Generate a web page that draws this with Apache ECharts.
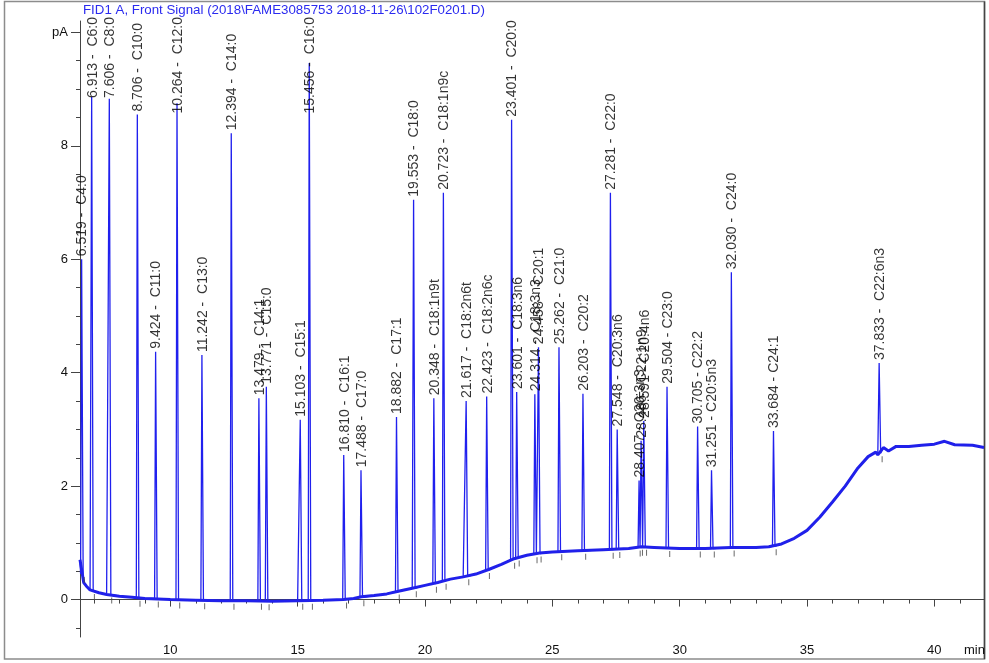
<!DOCTYPE html>
<html>
<head>
<meta charset="utf-8">
<script src="https://cdn.jsdelivr.net/npm/echarts@6/dist/echarts.min.js"></script>
<style>
  html, body { margin: 0; padding: 0; background: #fff; }
  #chart { width: 989px; height: 663px; }
</style>
</head>
<body>
<div id="chart"></div>
<script>
// peak table (retention time in min, apex in pA, baseline under the peak)
const peakTimes = [6.519, 6.913, 7.606, 8.706, 9.424, 10.264, 11.242, 12.394, 13.479, 13.771,
    15.103, 15.456, 16.810, 17.488, 18.882, 19.553, 20.348, 20.723, 21.617, 22.423,
    23.401, 23.601, 24.314, 24.458, 25.262, 26.203, 27.281, 27.548, 28.407, 28.486,
    28.591, 29.504, 30.705, 31.251, 32.030, 33.684, 37.833];
const peakNames = ['C4:0', 'C6:0', 'C8:0', 'C10:0', 'C11:0', 'C12:0', 'C13:0', 'C14:0', 'C14:1', 'C15:0',
    'C15:1', 'C16:0', 'C16:1', 'C17:0', 'C17:1', 'C18:0', 'C18:1n9t', 'C18:1n9c', 'C18:2n6t', 'C18:2n6c',
    'C20:0', 'C18:3n6', 'C18:3n3', 'C20:1', 'C21:0', 'C20:2', 'C22:0', 'C20:3n6', 'C20:3n3', 'C22:1n9',
    'C20:4n6', 'C23:0', 'C22:2', 'C20:5n3', 'C24:0', 'C24:1', 'C22:6n3'];
const peakHeights = [6.0, 8.86, 8.83, 8.55, 4.37, 8.75, 4.31, 8.22, 3.55, 3.75,
    3.17, 9.46, 2.55, 2.28, 3.22, 7.05, 3.55, 7.17, 3.5, 3.58,
    8.46, 3.66, 3.62, 4.45, 4.45, 3.63, 7.17, 3.0, 2.1, 2.8,
    3.15, 3.75, 3.05, 2.28, 5.77, 2.97, 4.17];
const peakBases = [0.45, 0.15, 0.09, 0.03, 0.02, 0.0, -0.01, -0.02, -0.02, -0.03,
    -0.02, -0.02, 0.0, 0.04, 0.14, 0.2, 0.28, 0.33, 0.41, 0.52,
    0.7, 0.74, 0.8, 0.81, 0.85, 0.86, 0.88, 0.89, 0.92, 0.93,
    0.93, 0.91, 0.9, 0.9, 0.92, 0.94, 2.58];
// integration end markers (min)
const markerTimes = [6.62, 7.02, 7.70, 8.81, 9.53, 10.37, 11.35, 12.50, 13.58, 13.88,
    15.20, 15.58, 16.92, 17.60, 18.99, 19.66, 20.45, 20.83, 21.72, 22.53,
    23.52, 23.70, 24.40, 24.56, 25.37, 26.31, 27.39, 27.65, 28.45, 28.54,
    28.70, 29.61, 30.81, 31.36, 32.14, 33.79, 37.95];
// labels with the narrow separator
const shortSep = ['28.407', '28.486', '28.591', '29.504', '30.705', '31.251', '33.684'];

// baseline of the trace
const baseTimes = [6.455, 6.6, 6.7, 6.85, 7.2, 7.5, 8.0, 8.5, 9.0, 10.0, 11.0, 12.0, 13.0, 14.0, 15.0, 16.0,
    16.8, 17.2, 17.5, 18.0, 18.5, 19.0, 19.5, 20.0, 20.5, 21.0, 21.5, 22.0, 22.5, 23.0, 23.5,
    24.0, 24.5, 25.0, 26.0, 27.0, 28.0, 28.5, 29.0, 30.0, 31.0, 32.0, 33.0, 33.5, 34.0, 34.5,
    35.0, 35.5, 36.0, 36.5, 37.0, 37.4, 37.7, 37.78, 38.0, 38.2, 38.5, 39.0, 39.5, 40.0, 40.4,
    40.8, 41.5, 41.95];
const baseValues = [0.7, 0.3, 0.24, 0.17, 0.12, 0.09, 0.06, 0.04, 0.02, 0.0, -0.01, -0.02, -0.02, -0.03, -0.02, -0.01,
    0.0, 0.02, 0.05, 0.07, 0.1, 0.15, 0.2, 0.25, 0.3, 0.36, 0.4, 0.45, 0.53, 0.62, 0.72,
    0.78, 0.82, 0.84, 0.86, 0.88, 0.9, 0.93, 0.92, 0.9, 0.9, 0.92, 0.92, 0.93, 0.98, 1.08,
    1.22, 1.45, 1.72, 2.0, 2.32, 2.52, 2.6, 2.55, 2.68, 2.62, 2.7, 2.7, 2.72, 2.74, 2.79,
    2.73, 2.72, 2.68];

const xLabelValues = [10, 15, 20, 25, 30, 35, 40];
const xMinorValues = [7, 8, 9, 10, 11, 12, 13, 14, 15, 16, 17, 18, 19, 20, 21, 22, 23, 24, 25, 26,
    27, 28, 29, 30, 31, 32, 33, 34, 35, 36, 37, 38, 39, 40, 41];
const yLabelValues = [0, 2, 4, 6, 8, 10];
const yMinorValues = [-0.5, 0, 0.5, 1, 1.5, 2, 2.5, 3, 3.5, 4, 4.5, 5, 5.5, 6, 6.5, 7, 7.5, 8, 8.5, 9, 9.5, 10];

const X_MIN = 6.455, X_MAX = 41.95, Y_MIN = -0.66, Y_MAX = 10.2;
const LABEL_FONT = 14;
const peakHalfL = 0.04, peakHalfR = 0.06;

// build the trace: baseline points outside peaks + triangle per peak
const trace = [];
baseTimes.forEach((t, i) => {
    const inPeak = peakTimes.some(p => t > p - peakHalfL && t < p + peakHalfR);
    if (!inPeak) trace.push([t, baseValues[i]]);
});
peakTimes.forEach((t, i) => {
    trace.push([t - peakHalfL, peakBases[i]], [t, peakHeights[i]], [t + peakHalfR, peakBases[i]]);
});
trace.sort((a, b) => a[0] - b[0]);

const labelTexts = peakTimes.map((t, i) => {
    const ts = t.toFixed(3);
    return ts + (shortSep.includes(ts) ? ' - ' : ' -  ') + peakNames[i];
});

const chart = echarts.init(document.getElementById('chart'));

function buildOption(labelAnchors) {
    return {
        animation: false,
        grid: { left: 80, right: 5, top: 21, bottom: 26 },
        xAxis: [
            {
                type: 'value', min: X_MIN, max: X_MAX,
                axisLine: { lineStyle: { color: '#444', width: 1 } },
                axisTick: { customValues: xLabelValues, length: 7, lineStyle: { color: '#444' } },
                axisLabel: {
                    customValues: xLabelValues, margin: 7, color: '#111',
                    fontSize: 13, fontFamily: 'Liberation Sans, Arial'
                },
                splitLine: { show: false }
            },
            {
                type: 'value', min: X_MIN, max: X_MAX, position: 'bottom',
                axisLine: { show: false },
                axisTick: { customValues: xMinorValues, length: 4, lineStyle: { color: '#444' } },
                axisLabel: { show: false },
                splitLine: { show: false }
            }
        ],
        yAxis: [
            {
                type: 'value', min: Y_MIN, max: Y_MAX,
                axisLine: { show: true, lineStyle: { color: '#444', width: 1 } },
                axisTick: { show: true, customValues: yLabelValues, length: 9, lineStyle: { color: '#444' } },
                axisLabel: {
                    customValues: yLabelValues, margin: 12, color: '#111',
                    fontSize: 13, fontFamily: 'Liberation Sans, Arial',
                    formatter: v => (v === 10 ? 'pA' : String(v))
                },
                splitLine: { show: false }
            },
            {
                type: 'value', min: Y_MIN, max: Y_MAX, position: 'left',
                axisLine: { show: false },
                axisTick: { show: true, customValues: yMinorValues, length: 4, lineStyle: { color: '#444' } },
                axisLabel: { show: false },
                splitLine: { show: false }
            }
        ],
        graphic: [
            {
                type: 'rect', silent: true,
                shape: { x: 4.5, y: 1.5, width: 980, height: 657.5 },
                style: { fill: 'none', stroke: '#8c8c8c', lineWidth: 1.5 }
            },
            {
                type: 'line', silent: true,
                shape: { x1: 984.5, y1: 1.5, x2: 984.5, y2: 659 },
                style: { stroke: '#444', lineWidth: 1.5 }
            },
            {
                type: 'text', left: 83, top: 4,
                style: {
                    text: 'FID1 A, Front Signal (2018\\FAME3085753 2018-11-26\\102F0201.D)',
                    fill: '#2b2bf0', font: '13.3px "Liberation Sans", Arial'
                }
            },
            {
                type: 'text', left: 964, top: 644,
                style: { text: 'min', fill: '#111', font: '13px "Liberation Sans", Arial' }
            }
        ],
        series: [
            {
                name: 'baseline', type: 'line', xAxisIndex: 0, yAxisIndex: 0,
                data: baseTimes.map((t, i) => [t, baseValues[i]]),
                showSymbol: false, symbol: 'none',
                lineStyle: { color: '#2222e6', width: 3 },
                z: 2
            },
            {
                name: 'signal', type: 'line', xAxisIndex: 0, yAxisIndex: 0,
                data: trace,
                showSymbol: false, symbol: 'none',
                lineStyle: { color: '#2020ee', width: 1.3 },
                z: 3
            },
            {
                name: 'markers', type: 'scatter', xAxisIndex: 0, yAxisIndex: 0,
                data: markerTimes.map((t, i) => [t, peakBases[i]]),
                symbol: 'rect', symbolSize: [1, 6], symbolOffset: [0, 6],
                itemStyle: { color: '#444' },
                silent: true, z: 4
            },
            {
                name: 'labels', type: 'scatter', xAxisIndex: 0, yAxisIndex: 0,
                data: peakTimes.map((t, i) => [t, labelAnchors[i]]),
                symbolSize: 0.1,
                itemStyle: { color: 'rgba(0,0,0,0)' },
                silent: true,
                z: 5,
                label: {
                    show: true, position: 'inside', rotate: 90,
                    align: 'left', verticalAlign: 'middle', offset: [0, 1],
                    color: '#000', fontSize: LABEL_FONT, fontFamily: 'Liberation Sans, Arial',
                    formatter: p => labelTexts[p.dataIndex]
                }
            }
        ]
    };
}

// first pass: anchors at the apex, then push labels down if they would leave the plot
chart.setOption(buildOption(peakHeights));

const ctx = document.createElement('canvas').getContext('2d');
ctx.font = LABEL_FONT + 'px "Liberation Sans", Arial';
const TOP_LIMIT = 17;
const anchors = peakTimes.map((t, i) => {
    const apexPx = chart.convertToPixel({ gridIndex: 0 }, [t, peakHeights[i]]);
    const w = ctx.measureText(labelTexts[i]).width;
    let bottom = apexPx[1] - 3;
    if (bottom - w < TOP_LIMIT) bottom = TOP_LIMIT + w;
    return chart.convertFromPixel({ gridIndex: 0 }, [apexPx[0], bottom])[1];
});
chart.setOption(buildOption(anchors));
</script>
</body>
</html>
